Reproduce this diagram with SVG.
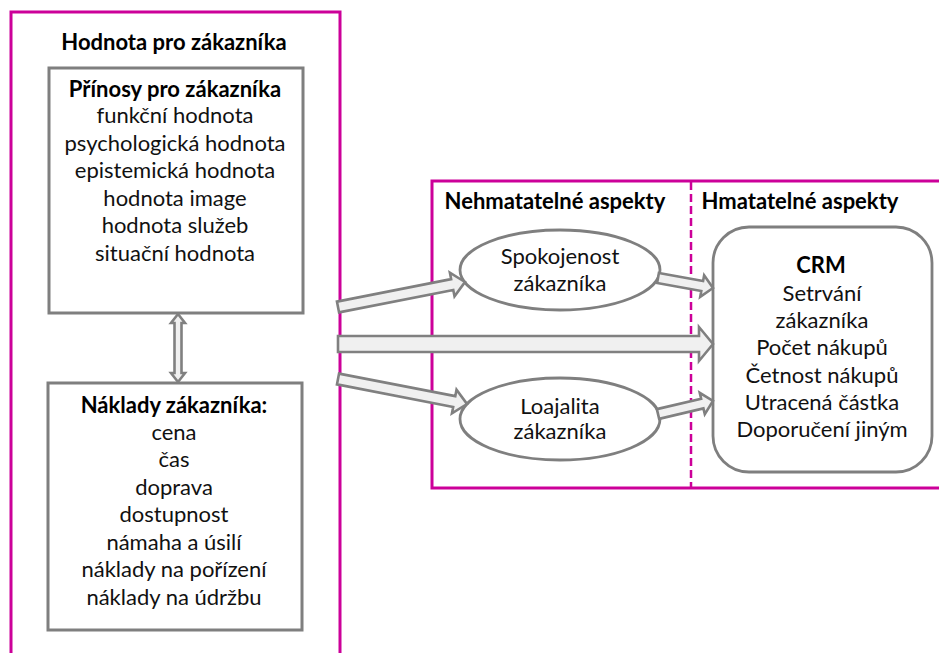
<svg xmlns="http://www.w3.org/2000/svg" width="939" height="653" viewBox="0 0 939 653">
  <style>
    .frame { fill: none; stroke: #cc0099; stroke-width: 3; }
    .divider { fill: none; stroke: #cc0099; stroke-width: 2.5; stroke-dasharray: 8 4; }
    .box { fill: #ffffff; stroke: #7f7f7f; stroke-width: 3; }
    .oval { fill: #ffffff; stroke: #7f7f7f; stroke-width: 2.8; }
    .arrow { fill: #f0f0f0; stroke: #808080; stroke-width: 2.6; stroke-linejoin: miter; }
    text { font-family: Lato, "Liberation Sans", sans-serif; font-size: 22px; fill: #111111; text-anchor: middle; }
    .b { font-weight: bold; fill: #000000; }
  </style>

  <!-- outer frames -->
  <g id="frame-value">
    <rect class="frame" x="11" y="12" width="329" height="660"/>
    <text class="b" x="174" y="50">Hodnota pro zákazníka</text>
  </g>
  <g id="frame-aspects">
    <rect class="frame" x="432" y="181" width="520" height="307"/>
    <line class="divider" x1="691" y1="182" x2="691" y2="487"/>
    <text class="b" x="555" y="209">Nehmatatelné aspekty</text>
    <text class="b" x="800" y="209">Hmatatelné aspekty</text>
  </g>

  <!-- benefits box -->
  <g id="benefits">
    <rect class="box" x="49" y="68" width="254" height="245"/>
    <text class="b" x="175" y="97">Přínosy pro zákazníka</text>
    <text x="175" y="123">funkční hodnota</text>
    <text x="175" y="151">psychologická hodnota</text>
    <text x="175" y="178">epistemická hodnota</text>
    <text x="175" y="206">hodnota image</text>
    <text x="175" y="233">hodnota služeb</text>
    <text x="175" y="261">situační hodnota</text>
  </g>

  <!-- costs box -->
  <g id="costs">
    <rect class="box" x="48" y="383" width="254" height="247"/>
    <text class="b" x="174" y="413">Náklady zákazníka:</text>
    <text x="174" y="440">cena</text>
    <text x="174" y="467">čas</text>
    <text x="174" y="495">doprava</text>
    <text x="174" y="522">dostupnost</text>
    <text x="174" y="550">námaha a úsilí</text>
    <text x="174" y="577">náklady na pořízení</text>
    <text x="174" y="605">náklady na údržbu</text>
  </g>

  <!-- intangible aspects -->
  <g id="satisfaction">
    <ellipse class="oval" cx="560" cy="270" rx="100" ry="40"/>
    <text x="560" y="264">Spokojenost</text>
    <text x="560" y="291">zákazníka</text>
  </g>
  <g id="loyalty">
    <ellipse class="oval" cx="560" cy="419" rx="100" ry="41"/>
    <text x="560" y="414">Loajalita</text>
    <text x="560" y="439">zákazníka</text>
  </g>

  <!-- tangible aspects -->
  <g id="crm">
    <rect class="oval" x="713" y="227" width="219" height="245" rx="36" ry="36"/>
    <text class="b" x="821" y="273">CRM</text>
    <text x="822" y="301">Setrvání</text>
    <text x="822" y="328">zákazníka</text>
    <text x="822" y="355">Počet nákupů</text>
    <text x="822" y="383">Četnost nákupů</text>
    <text x="822" y="410">Utracená částka</text>
    <text x="822" y="437">Doporučení jiným</text>
  </g>

  <!-- block arrows -->
  <g id="connectors">
    <polygon class="arrow" points="178,314 185,323 181.5,323 181.5,373 185,373 178,382 171,373 174.5,373 174.5,323 171,323"/>
    <polygon class="arrow" transform="translate(338,307) rotate(-11.14)" points="0,-5.5 116.4,-5.5 116.4,-12 129.4,0 116.4,12 116.4,5.5 0,5.5"/>
    <polygon class="arrow" transform="translate(338,344)" points="0,-8 361,-8 361,-17 375,0 361,17 361,8 0,8"/>
    <polygon class="arrow" transform="translate(338,379) rotate(10.97)" points="0,-5.5 118.4,-5.5 118.4,-12 131.4,0 118.4,12 118.4,5.5 0,5.5"/>
    <polygon class="arrow" transform="translate(658,278) rotate(10.3)" points="0,-5 44.9,-5 44.9,-11 55.9,0 44.9,11 44.9,5 0,5"/>
    <polygon class="arrow" transform="translate(658,414) rotate(-13.3)" points="0,-5 45.5,-5 45.5,-11 56.5,0 45.5,11 45.5,5 0,5"/>
  </g>
</svg>
